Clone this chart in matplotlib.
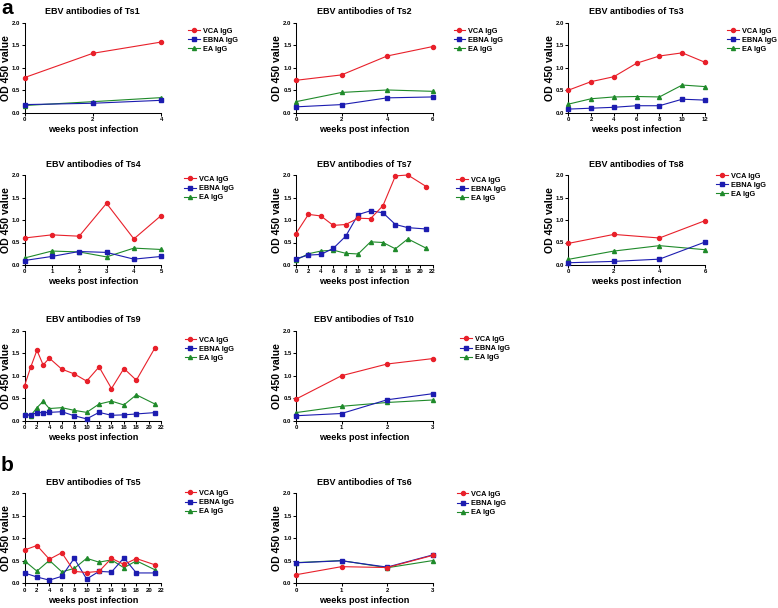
import matplotlib
matplotlib.use("Agg")
import matplotlib.pyplot as plt
from matplotlib.ticker import FormatStrFormatter

plt.rcParams['font.family'] = ['Liberation Sans', 'DejaVu Sans']
plt.rcParams['font.weight'] = 'bold'

# --- data (OD 450 values per week) ---
ts1_weeks = [0, 2, 4]
ts1_vca = [0.78, 1.32, 1.57]
ts1_ebna = [0.18, 0.21, 0.275]
ts1_ea = [0.16, 0.245, 0.335]

ts2_weeks = [0, 2, 4, 6]
ts2_vca = [0.72, 0.84, 1.26, 1.47]
ts2_ebna = [0.13, 0.18, 0.33, 0.35]
ts2_ea = [0.245, 0.45, 0.505, 0.475]

ts3_weeks = [0, 2, 4, 6, 8, 10, 12]
ts3_vca = [0.50, 0.69, 0.80, 1.10, 1.26, 1.33, 1.12]
ts3_ebna = [0.08, 0.10, 0.12, 0.155, 0.155, 0.30, 0.28]
ts3_ea = [0.19, 0.31, 0.35, 0.36, 0.35, 0.615, 0.58]

ts4_weeks = [0, 1, 2, 3, 4, 5]
ts4_vca = [0.60, 0.67, 0.64, 1.37, 0.58, 1.10]
ts4_ebna = [0.10, 0.19, 0.30, 0.28, 0.13, 0.19]
ts4_ea = [0.155, 0.31, 0.29, 0.18, 0.375, 0.345]

ts7_weeks = [0, 2, 4, 6, 8, 10, 12, 14, 16, 18, 21]
ts7_vca = [0.70, 1.125, 1.09, 0.88, 0.90, 1.04, 1.03, 1.32, 1.98, 2.0, 1.74]
ts7_ebna = [0.14, 0.22, 0.235, 0.37, 0.64, 1.12, 1.205, 1.16, 0.90, 0.83, 0.80]
ts7_ea = [0.11, 0.25, 0.31, 0.33, 0.26, 0.245, 0.515, 0.50, 0.36, 0.58, 0.37]

ts8_weeks = [0, 2, 4, 6]
ts8_vca = [0.48, 0.68, 0.60, 0.985]
ts8_ebna = [0.05, 0.08, 0.13, 0.51]
ts8_ea = [0.125, 0.31, 0.43, 0.34]

ts9_weeks = [0, 1, 2, 3, 4, 6, 8, 10, 12, 14, 16, 18, 21]
ts9_vca = [0.775, 1.19, 1.565, 1.24, 1.39, 1.145, 1.04, 0.88, 1.195, 0.715, 1.16, 0.90, 1.62]
ts9_ebna = [0.13, 0.125, 0.18, 0.18, 0.185, 0.20, 0.11, 0.04, 0.185, 0.12, 0.13, 0.15, 0.18]
ts9_ea = [0.16, 0.11, 0.29, 0.43, 0.27, 0.29, 0.23, 0.185, 0.37, 0.435, 0.35, 0.575, 0.37]

ts10_weeks = [0, 1, 2, 3]
ts10_vca = [0.48, 1.00, 1.26, 1.38]
ts10_ebna = [0.11, 0.16, 0.465, 0.60]
ts10_ea = [0.18, 0.32, 0.405, 0.46]

ts5_weeks = [0, 2, 4, 6, 8, 10, 12, 14, 16, 18, 21]
ts5_vca = [0.74, 0.84, 0.535, 0.68, 0.265, 0.24, 0.265, 0.555, 0.42, 0.55, 0.41]
ts5_ebna = [0.23, 0.14, 0.07, 0.155, 0.555, 0.095, 0.265, 0.25, 0.565, 0.23, 0.23]
ts5_ea = [0.50, 0.27, 0.51, 0.255, 0.33, 0.555, 0.47, 0.52, 0.345, 0.50, 0.30]

ts6_weeks = [0, 1, 2, 3]
ts6_vca = [0.19, 0.37, 0.35, 0.62]
ts6_ebna = [0.455, 0.50, 0.36, 0.63]
ts6_ea = [0.46, 0.505, 0.345, 0.505]

series_names = ["VCA IgG", "EBNA IgG", "EA IgG"]

# --- styling / layout ---
COLORS = ["#e8202a", "#1c1cb0", "#1f8a2a"]
MARKERS = ["o", "s", "^"]
ZORDERS = [5, 4, 3]

W, H = 778, 608
AX_W, AX_H = 136.7, 90.0
COL_LEFT = [24.5, 296.0, 568.3]
ROW_TOP = [22.7, 175.0, 330.7, 493.3]

# (name, weeks, vca, ebna, ea, xmax, xstep, col, row, legend x offset px, legend first-row offset px)
panels = [
    ("Ts1", ts1_weeks, ts1_vca, ts1_ebna, ts1_ea, 4, 2, 0, 0, 163.5, 9.0),
    ("Ts2", ts2_weeks, ts2_vca, ts2_ebna, ts2_ea, 6, 2, 1, 0, 157.6, 9.0),
    ("Ts3", ts3_weeks, ts3_vca, ts3_ebna, ts3_ea, 12, 2, 2, 0, 159.0, 9.0),
    ("Ts4", ts4_weeks, ts4_vca, ts4_ebna, ts4_ea, 5, 1, 0, 1, 159.8, 5.0),
    ("Ts7", ts7_weeks, ts7_vca, ts7_ebna, ts7_ea, 22, 2, 1, 1, 160.0, 5.7),
    ("Ts8", ts8_weeks, ts8_vca, ts8_ebna, ts8_ea, 6, 2, 2, 1, 147.7, 1.7),
    ("Ts9", ts9_weeks, ts9_vca, ts9_ebna, ts9_ea, 22, 2, 0, 2, 160.0, 10.0),
    ("Ts10", ts10_weeks, ts10_vca, ts10_ebna, ts10_ea, 3, 1, 1, 2, 164.0, 9.3),
    ("Ts5", ts5_weeks, ts5_vca, ts5_ebna, ts5_ea, 22, 2, 0, 3, 160.0, 0.7),
    ("Ts6", ts6_weeks, ts6_vca, ts6_ebna, ts6_ea, 3, 1, 1, 3, 160.7, 1.7),
]

fig = plt.figure(figsize=(W / 100, H / 100), dpi=100)

LEG_FS = 5.3
for name, weeks, vca, ebna, ea, xmax, xstep, col, row, lx, ly in panels:
    left = COL_LEFT[col] / W
    bottom = 1 - (ROW_TOP[row] + AX_H) / H
    ax = fig.add_axes([left, bottom, AX_W / W, AX_H / H])

    for label, vals, c, m, z in zip(series_names, [vca, ebna, ea], COLORS, MARKERS, ZORDERS):
        ax.plot(weeks, vals, color=c, marker=m, markersize=2.9, linewidth=0.8,
                label=label, clip_on=False, zorder=z)

    ax.set_xlim(0, xmax)
    ax.set_ylim(0, 2.0)
    ax.set_xticks(range(0, xmax + 1, xstep))
    ax.set_yticks([0, 0.5, 1.0, 1.5, 2.0])
    ax.yaxis.set_major_formatter(FormatStrFormatter('%.1f'))
    for s in ("top", "right"):
        ax.spines[s].set_visible(False)
    for s in ("left", "bottom"):
        ax.spines[s].set_linewidth(0.75)
    ax.tick_params(direction="out", length=2, width=0.75, labelsize=4.3, pad=1.2)

    ax.set_title(f"EBV antibodies of {name}", fontsize=6.5, fontweight="bold", pad=6)
    ax.set_xlabel("weeks post infection", fontsize=6.6, fontweight="bold", labelpad=2)
    ax.set_ylabel("OD 450 value", fontsize=7.6, fontweight="bold")
    ax.yaxis.set_label_coords(-0.1, 0.5)

    # legend anchored in pixel offsets from the axes' top-left corner
    ax_x = lx / AX_W
    ax_y = 1 - (ly - 4.2) / AX_H
    ax.legend(loc="upper left", bbox_to_anchor=(ax_x, ax_y), frameon=False,
              fontsize=LEG_FS, borderpad=0, borderaxespad=0, handlelength=1.6,
              handletextpad=0.4, labelspacing=0.27, numpoints=1)

fig.text(1 / W, 1 - 14 / H, "a", fontsize=15, fontweight="bold", ha="left", va="baseline")
fig.text(1 / W, 1 - 471 / H, "b", fontsize=15, fontweight="bold", ha="left", va="baseline")

fig.savefig("out.png", dpi=100)
